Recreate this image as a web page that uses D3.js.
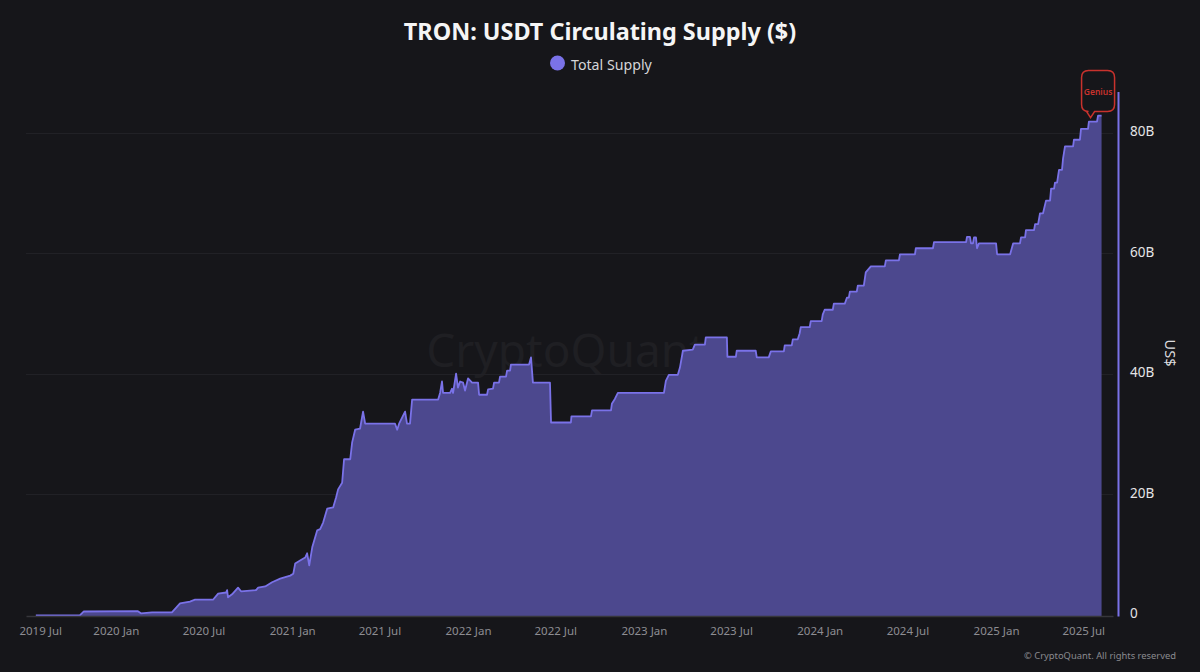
<!DOCTYPE html>
<html><head><meta charset="utf-8">
<script src="https://cdn.jsdelivr.net/npm/d3@7"></script>
<style>html,body{margin:0;padding:0;background:#16161a;overflow:hidden}svg{display:block}text{font-family:"Noto Sans",sans-serif}</style>
</head><body><svg id="c" width="1200" height="672"></svg>
<script>
const years=[2019.545,2019.795,2019.818,2020.125,2020.142,2020.205,2020.318,2020.364,2020.42,2020.449,2020.551,2020.58,2020.625,2020.631,2020.636,2020.659,2020.693,2020.71,2020.795,2020.807,2020.847,2020.886,2020.932,2020.989,2021.006,2021.017,2021.045,2021.074,2021.085,2021.097,2021.114,2021.142,2021.159,2021.176,2021.199,2021.233,2021.25,2021.261,2021.284,2021.295,2021.33,2021.341,2021.358,2021.386,2021.403,2021.415,2021.585,2021.597,2021.608,2021.625,2021.642,2021.653,2021.67,2021.682,2021.83,2021.841,2021.852,2021.858,2021.898,2021.909,2021.915,2021.932,2021.943,2021.955,2021.972,2021.983,2022.0,2022.023,2022.057,2022.063,2022.108,2022.114,2022.142,2022.148,2022.176,2022.182,2022.216,2022.222,2022.239,2022.244,2022.347,2022.358,2022.369,2022.466,2022.472,2022.585,2022.588,2022.699,2022.705,2022.813,2022.818,2022.835,2022.852,2023.114,2023.125,2023.142,2023.193,2023.205,2023.222,2023.278,2023.29,2023.347,2023.352,2023.472,2023.475,2023.523,2023.528,2023.636,2023.642,2023.71,2023.722,2023.796,2023.801,2023.841,2023.847,2023.875,2023.886,2023.892,2023.943,2023.949,2024.011,2024.017,2024.028,2024.074,2024.08,2024.142,2024.154,2024.165,2024.171,2024.21,2024.216,2024.25,2024.261,2024.29,2024.369,2024.375,2024.449,2024.455,2024.54,2024.545,2024.642,2024.648,2024.83,2024.835,2024.852,2024.858,2024.869,2024.875,2024.886,2024.892,2024.903,2025.0,2025.006,2025.08,2025.097,2025.136,2025.142,2025.165,2025.17,2025.216,2025.222,2025.239,2025.25,2025.267,2025.284,2025.307,2025.313,2025.33,2025.335,2025.347,2025.358,2025.375,2025.381,2025.392,2025.438,2025.443,2025.477,2025.483,2025.523,2025.528,2025.574,2025.58,2025.6];
const supplyB=[0.1,0.1,0.75,0.8,0.45,0.6,0.6,2.1,2.4,2.7,2.7,3.7,3.9,4.3,3.1,3.6,4.7,4.1,4.3,4.7,4.9,5.6,6.2,6.7,7,8.7,9.2,9.7,10.4,8.4,11.4,14.2,14.4,15.5,17.8,18,19.7,21,22.1,26,26,28.8,30.9,31.1,33.9,31.9,31.9,30.9,31.9,32.9,33.9,31.9,31.9,35.9,35.9,37,38.9,37,37,37.7,37,40.2,37.9,38.9,38.7,37.4,39.4,38.7,38.7,36.7,36.7,37.6,37.7,38.7,38.7,39.7,39.7,40.7,40.7,41.7,41.7,42.9,38.7,38.7,32.1,32.1,33.1,33.1,34.1,34.1,35.2,36,37,37,39,40,40,41.2,44,44.2,45,45,46.2,46.2,43,43,44,44,42.9,42.9,43.9,43.9,44.9,44.9,45.9,45.9,46.9,47.9,47.9,48.9,48.9,50,50.8,50.8,51.8,51.8,52.8,52.8,53.8,53.8,54.8,54.8,57,58,58,59,59,60,60,61,61,62,62,62.9,62.9,61.8,61.8,62.8,62.8,61,61.8,61.8,60,60,61.8,61.8,62.8,62.8,64,64,65,65,66.8,66.8,68.9,68.9,70.9,70.9,71.9,71.9,74,74,75.9,77.9,77.9,79,79,80.8,80.8,82,82,83,83];
const xTickLabels=["2019 Jul","2020 Jan","2020 Jul","2021 Jan","2021 Jul","2022 Jan","2022 Jul","2023 Jan","2023 Jul","2024 Jan","2024 Jul","2025 Jan","2025 Jul"];
const yTickValues=[0,20,40,60,80];
const titleText="TRON: USDT Circulating Supply ($)";
const seriesName="Total Supply";
const yAxisName="US$";
const creditText="© CryptoQuant. All rights reserved";
const watermarkText="CryptoQuant";
const calloutText="Genius";

const toDate=y=>{const f=Math.floor(y);const a=Date.UTC(f,0,1),b=Date.UTC(f+1,0,1);return new Date(a+(y-f)*(b-a));};
const parseTick=d3.utcParse("%Y %b");
const BG="#16161a",LINE="#7a72e8",FILL="#4c488e",RED="#c9322d";
const svg=d3.select("#c");
svg.append("rect").attr("width",1200).attr("height",672).attr("fill",BG);

const x=d3.scaleUtc().domain([toDate(2019.489),toDate(2025.665)]).range([26,1113]);
const y=d3.scaleLinear().domain([0,87]).range([616,91.5]);
const data=years.map((t,i)=>({t:toDate(t),v:supplyB[i]}));

// watermark
svg.append("text").attr("x",566).attr("y",367).attr("text-anchor","middle").attr("font-size",46)
 .attr("fill","#1f1f23").text(watermarkText);

// gridlines
svg.append("g").selectAll("line").data(yTickValues.filter(d=>d>0)).join("line")
 .attr("x1",26).attr("x2",1113).attr("y1",d=>Math.round(y(d))-.5).attr("y2",d=>Math.round(y(d))-.5)
 .attr("stroke","#212126").attr("stroke-width",1);

// area + line
svg.append("path").datum(data).attr("fill",FILL)
 .attr("d",d3.area().x(d=>x(d.t)).y0(y(0)).y1(d=>y(d.v)));
svg.append("path").datum(data).attr("fill","none").attr("stroke",LINE).attr("stroke-width",1.8).attr("stroke-linejoin","round")
 .attr("d",d3.line().x(d=>x(d.t)).y(d=>y(d.v)));

// x axis
const xVals=xTickLabels.map(parseTick);
const xAxis=d3.axisBottom(x).tickValues(xVals).tickFormat(d3.utcFormat("%Y %b")).tickSize(0).tickPadding(11);
const gx=svg.append("g").attr("transform",`translate(0,${y(0)})`).call(xAxis);
gx.select(".domain").attr("stroke","#36363b").attr("stroke-width",1.5);
gx.selectAll("text").attr("font-size",11.5).attr("fill","#8d8d92").style("font-family",'"Noto Sans",sans-serif')
 .attr("dx",(d,i)=>i===0?13:0);

// y axis
const yAxis=d3.axisRight(y).tickValues(yTickValues).tickFormat(d=>d===0?"0":d+"B").tickSize(0).tickPadding(12);
const gy=svg.append("g").attr("transform","translate(1118,0)").call(yAxis);
gy.select(".domain").attr("stroke",LINE).attr("stroke-width",2);
gy.selectAll("text").attr("font-size",13.5).attr("fill","#e4e4e6").style("font-family",'"Noto Sans",sans-serif').attr("dy","0.14em");

// y axis title
svg.append("text").attr("transform","translate(1165,353) rotate(90)").attr("text-anchor","middle")
 .attr("font-size",14.5).attr("fill","#dcdcdf").text(yAxisName);

// title & legend
svg.append("text").attr("x",600).attr("y",40).attr("text-anchor","middle").attr("font-size",23.4)
 .attr("font-weight",700).attr("fill","#f5f5f5").text(titleText);
svg.append("circle").attr("cx",557.5).attr("cy",63).attr("r",7.5).attr("fill",LINE);
svg.append("text").attr("x",571).attr("y",69.5).attr("font-size",14.2).attr("fill","#d5d5d8").text(seriesName);

// callout anchored to last point
const last=data[data.length-1];
const ax=x(last.t)-11,ay=y(last.v)+2;
const L=ax-9,R=ax+24,T=ay-47,B=ay-6,r=7;
svg.append("path").attr("fill",BG).attr("stroke",RED).attr("stroke-width",1.5)
 .attr("d",`M${L+r},${T}H${R-r}Q${R},${T} ${R},${T+r}V${B-r}Q${R},${B} ${R-r},${B}H${ax+4}L${ax},${ay}L${ax-4},${B}H${L+r}Q${L},${B} ${L},${B-r}V${T+r}Q${L},${T} ${L+r},${T}Z`);
svg.append("text").attr("x",(L+R)/2).attr("y",T+24).attr("text-anchor","middle").attr("font-size",8.5)
 .attr("font-weight",600).attr("fill",RED).text(calloutText);

// credit
svg.append("text").attr("x",1176).attr("y",659).attr("text-anchor","end").attr("font-size",9.4)
 .attr("fill","#8a8a8f").text(creditText);
</script></body></html>
